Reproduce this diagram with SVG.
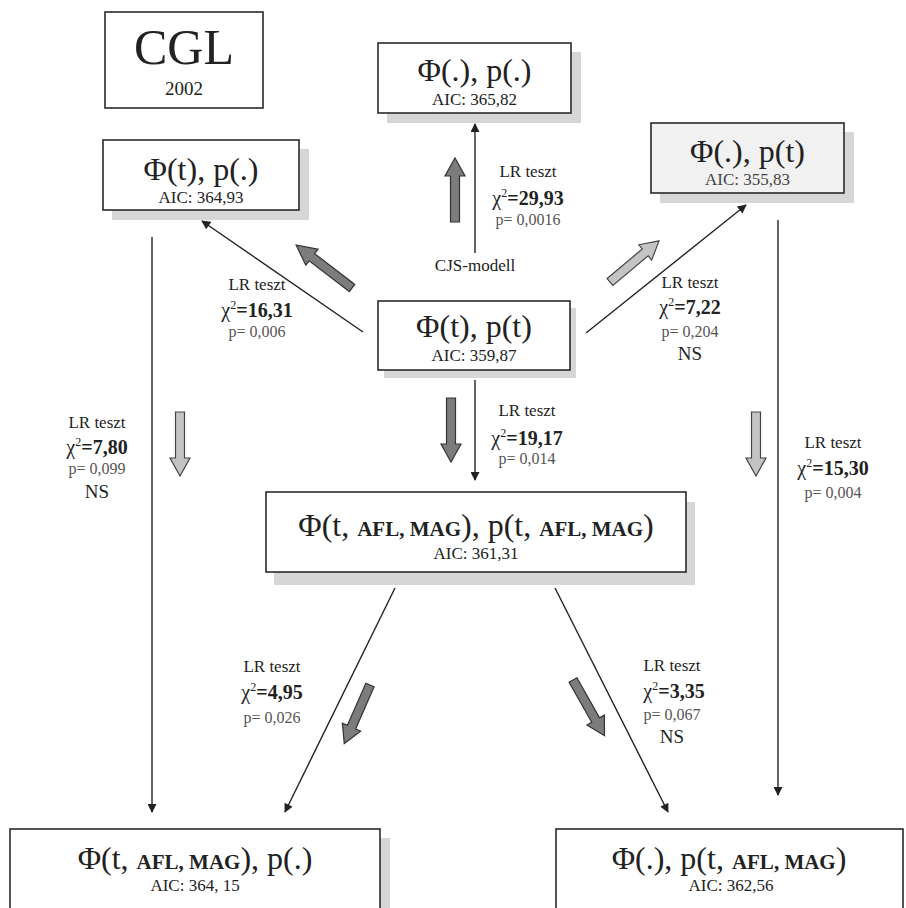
<svg xmlns="http://www.w3.org/2000/svg" xmlns:xlink="http://www.w3.org/1999/xlink" width="906" height="908" viewBox="0 0 906 908">
<style>
text{font-family:"Liberation Serif","Times New Roman",serif;fill:#222;text-anchor:middle}
.box{fill:#fff;stroke:#2a2a2a;stroke-width:1.6}
.boxg{fill:#f1f1f1;stroke:#2a2a2a;stroke-width:1.6}
.sh{fill:#d6d6d6}
.f{font-size:32px}
.sc{font-size:21px;font-weight:bold}
.aic{font-size:17px}
.lr{font-size:17px}
.chi{font-size:20px}
.sup{font-size:12px}
.b{font-weight:bold}
.p{font-size:16px;fill:#555}
.ns{font-size:19px}
.con{stroke:#222;stroke-width:1.4;fill:none;marker-end:url(#ah)}
.dark{fill:#7c7c7c;stroke:#333;stroke-width:1.2}
.light{fill:#c4c4c4;stroke:#444;stroke-width:1.2}
</style>
<defs>
<marker id="ah" viewBox="0 0 10 10" refX="9" refY="5" markerWidth="10" markerHeight="9" markerUnits="userSpaceOnUse" orient="auto">
<path d="M0,0 L10,5 L0,10 Z" fill="#222"/>
</marker>
<path id="ba" d="M0,-4.5 H46 V-10 L64,0 L46,10 V4.5 H0 Z"/>
</defs>

<g id="cgl">
<rect class="box" x="105" y="12" width="158" height="96"/>
<text x="184" y="64" style="font-size:50px">CGL</text>
<text x="184" y="95" style="font-size:19px">2002</text>
</g>

<g id="n_phi_t_p_dot">
<rect class="sh" x="112" y="149" width="197" height="71"/>
<rect class="box" x="103" y="140" width="196" height="70"/>
<text class="f" x="201" y="180">Φ(t), p(.)</text>
<text class="aic" x="201" y="203">AIC: 364,93</text>
</g>

<g id="n_phi_dot_p_dot">
<rect class="sh" x="387" y="52" width="194" height="71"/>
<rect class="box" x="378" y="43" width="193" height="70"/>
<text class="f" x="474.5" y="81">Φ(.), p(.)</text>
<text class="aic" x="474.5" y="105">AIC: 365,82</text>
</g>

<g id="n_phi_dot_p_t">
<rect class="sh" x="660" y="132" width="194" height="71"/>
<rect class="boxg" x="651" y="123" width="193" height="70"/>
<text class="f" x="747.5" y="162">Φ(.), p(t)</text>
<text class="aic" x="747.5" y="185" style="fill:#444">AIC: 355,83</text>
</g>

<g id="n_cjs">
<rect class="sh" x="384" y="308" width="192" height="70"/>
<rect class="box" x="378" y="301" width="192" height="69"/>
<text class="f" x="474" y="337">Φ(t), p(t)</text>
<text class="aic" x="474" y="361">AIC: 359,87</text>
</g>

<g id="n_mid">
<rect class="sh" x="274" y="502" width="421" height="83"/>
<rect class="box" x="266" y="492" width="420" height="80"/>
<text class="f" x="476" y="536">Φ(t, <tspan class="sc">AFL, MAG</tspan>), p(t, <tspan class="sc">AFL, MAG</tspan>)</text>
<text class="aic" x="476" y="559">AIC: 361,31</text>
</g>

<g id="n_bottom_left">
<rect class="sh" x="20" y="838" width="370" height="90"/>
<rect class="box" x="10" y="829" width="370" height="90"/>
<text class="f" x="195" y="869">Φ(t, <tspan class="sc">AFL, MAG</tspan>), p(.)</text>
<text class="aic" x="195" y="891">AIC: 364, 15</text>
</g>

<g id="n_bottom_right">
<rect class="box" x="556" y="829" width="347" height="90"/>
<text class="f" x="729" y="869">Φ(.), p(t, <tspan class="sc">AFL, MAG</tspan>)</text>
<text class="aic" x="731" y="891">AIC: 362,56</text>
</g>

<g id="connectors">
<line class="con" x1="475" y1="253" x2="475" y2="124"/>
<line class="con" x1="363" y1="332" x2="202" y2="221"/>
<line class="con" x1="586" y1="333" x2="746" y2="205"/>
<line class="con" x1="152" y1="237" x2="152" y2="812"/>
<line class="con" x1="778" y1="220" x2="778" y2="795"/>
<line class="con" x1="475" y1="380" x2="475" y2="480"/>
<line class="con" x1="395" y1="588" x2="285" y2="812"/>
<line class="con" x1="555" y1="588" x2="668" y2="812"/>
</g>

<g id="direction_arrows">
<use xlink:href="#ba" class="dark" transform="translate(455,222) rotate(-90)"/>
<use xlink:href="#ba" class="dark" transform="translate(352,288) rotate(217.5) scale(1.1,1)"/>
<use xlink:href="#ba" class="light" transform="translate(610,282) rotate(-40)"/>
<use xlink:href="#ba" class="dark" transform="translate(451,398) rotate(90)"/>
<use xlink:href="#ba" class="light" transform="translate(180,412) rotate(90)"/>
<use xlink:href="#ba" class="light" transform="translate(756,412) rotate(90)"/>
<use xlink:href="#ba" class="dark" transform="translate(370,685) rotate(113.7)"/>
<use xlink:href="#ba" class="dark" transform="translate(573,680) rotate(60.5)"/>
</g>

<g id="labels">
<text class="lr" x="528" y="177">LR teszt</text>
<text class="chi" x="528" y="205">χ<tspan class="sup" dy="-8">2</tspan><tspan class="b" dy="8">=29,93</tspan></text>
<text class="p" x="528" y="225">p= 0,0016</text>
<text class="lr" x="475" y="271">CJS-modell</text>

<text class="lr" x="257" y="290">LR teszt</text>
<text class="chi" x="257" y="317">χ<tspan class="sup" dy="-8">2</tspan><tspan class="b" dy="8">=16,31</tspan></text>
<text class="p" x="257" y="337">p= 0,006</text>

<text class="lr" x="690" y="288">LR teszt</text>
<text class="chi" x="690" y="314">χ<tspan class="sup" dy="-8">2</tspan><tspan class="b" dy="8">=7,22</tspan></text>
<text class="p" x="690" y="337">p= 0,204</text>
<text class="ns" x="690" y="360">NS</text>

<text class="lr" x="527" y="416">LR teszt</text>
<text class="chi" x="527" y="445">χ<tspan class="sup" dy="-8">2</tspan><tspan class="b" dy="8">=19,17</tspan></text>
<text class="p" x="527" y="464">p= 0,014</text>

<text class="lr" x="97" y="428">LR teszt</text>
<text class="chi" x="97" y="454">χ<tspan class="sup" dy="-8">2</tspan><tspan class="b" dy="8">=7,80</tspan></text>
<text class="p" x="97" y="474">p= 0,099</text>
<text class="ns" x="97" y="498">NS</text>

<text class="lr" x="833" y="448">LR teszt</text>
<text class="chi" x="833" y="475">χ<tspan class="sup" dy="-8">2</tspan><tspan class="b" dy="8">=15,30</tspan></text>
<text class="p" x="833" y="498">p= 0,004</text>

<text class="lr" x="272" y="672">LR teszt</text>
<text class="chi" x="272" y="699">χ<tspan class="sup" dy="-8">2</tspan><tspan class="b" dy="8">=4,95</tspan></text>
<text class="p" x="272" y="723">p= 0,026</text>

<text class="lr" x="672" y="671">LR teszt</text>
<text class="chi" x="674" y="698">χ<tspan class="sup" dy="-8">2</tspan><tspan class="b" dy="8">=3,35</tspan></text>
<text class="p" x="672" y="720">p= 0,067</text>
<text class="ns" x="672" y="743">NS</text>
</g>
</svg>
